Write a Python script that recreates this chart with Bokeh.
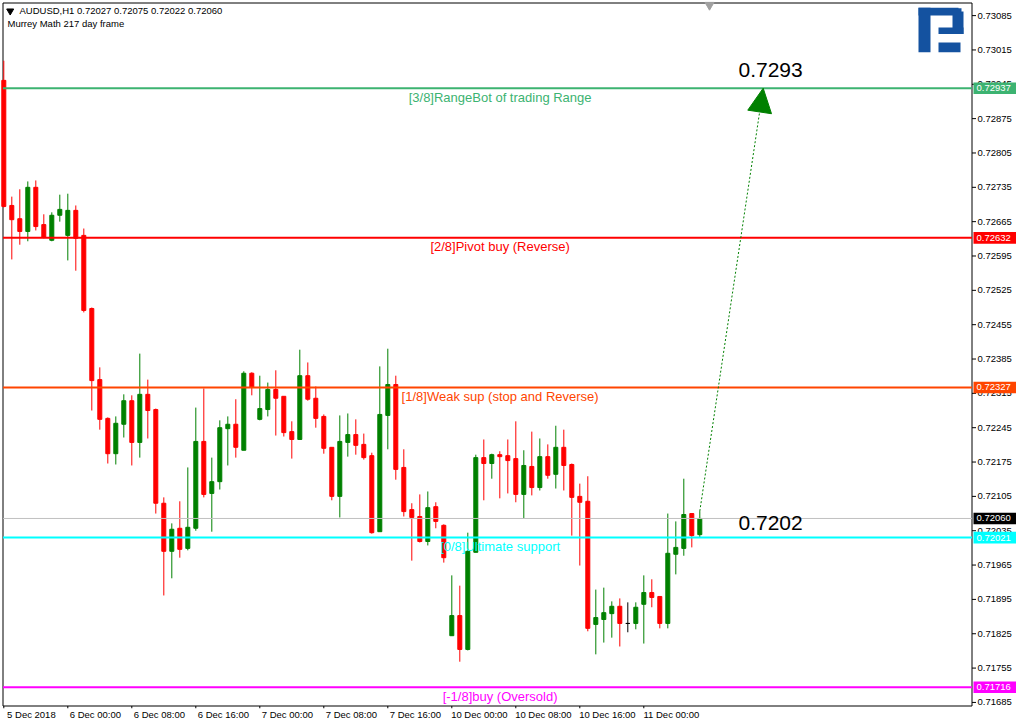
from bokeh.plotting import figure
from bokeh.models import (Range1d, LinearAxis, FixedTicker, Label, Arrow, NormalHead,
                          ColumnDataSource)
from bokeh.core.properties import value
from bokeh.embed import file_html
from bokeh.resources import INLINE

# ---------------- data ----------------
symbol = "AUDUSD,H1"
indicator_name = "Murrey Math 217 day frame"

opens = [0.72953, 0.72698, 0.72671, 0.72645, 0.72735, 0.72659, 0.72627, 0.72678, 0.72637, 0.72688,
         0.72637, 0.72488, 0.72343, 0.72264, 0.72192, 0.72252, 0.72300, 0.72215, 0.72313, 0.72282,
         0.72091, 0.71993, 0.72040, 0.71999, 0.72040, 0.72217, 0.72111, 0.72135, 0.72243, 0.72252,
         0.72199, 0.72356, 0.72262, 0.72282, 0.72323, 0.72309, 0.72237, 0.72221, 0.72351, 0.72305,
         0.72268, 0.72205, 0.72105, 0.72215, 0.72231, 0.72211, 0.72188, 0.72033, 0.72270, 0.72333,
         0.72164, 0.72078, 0.72064, 0.72013, 0.72084, 0.72046, 0.71821, 0.71862, 0.71793, 0.71991,
         0.72184, 0.72172, 0.72190, 0.72188, 0.72182, 0.72109, 0.72166, 0.72123, 0.72186, 0.72150,
         0.72205, 0.72170, 0.72105, 0.72095, 0.71844, 0.71854, 0.71866, 0.71881, 0.71846, 0.71846,
         0.71885, 0.71909, 0.71901, 0.71846, 0.71987, 0.71999, 0.72070, 0.72027]
highs = [0.72993, 0.72716, 0.72731, 0.72747, 0.72749, 0.72680, 0.72684, 0.72720, 0.72722, 0.72698,
         0.72651, 0.72490, 0.72368, 0.72266, 0.72268, 0.72313, 0.72311, 0.72396, 0.72343, 0.72284,
         0.72103, 0.72050, 0.72095, 0.72164, 0.72286, 0.72325, 0.72184, 0.72260, 0.72268, 0.72303,
         0.72360, 0.72358, 0.72351, 0.72337, 0.72362, 0.72309, 0.72258, 0.72404, 0.72378, 0.72329,
         0.72272, 0.72205, 0.72270, 0.72274, 0.72262, 0.72233, 0.72194, 0.72370, 0.72406, 0.72351,
         0.72201, 0.72091, 0.72109, 0.72115, 0.72093, 0.72048, 0.71944, 0.71923, 0.72031, 0.72190,
         0.72221, 0.72192, 0.72197, 0.72221, 0.72258, 0.72199, 0.72237, 0.72223, 0.72211, 0.72249,
         0.72241, 0.72172, 0.72131, 0.72146, 0.71915, 0.71919, 0.71891, 0.71897, 0.71889, 0.71889,
         0.71944, 0.71936, 0.71901, 0.72070, 0.72054, 0.72141, 0.72070, 0.72075]
lows = [0.72694, 0.72588, 0.72618, 0.72625, 0.72647, 0.72631, 0.72625, 0.72665, 0.72586, 0.72565,
        0.72480, 0.72280, 0.72241, 0.72172, 0.72170, 0.72225, 0.72168, 0.72184, 0.72223, 0.72070,
        0.71903, 0.71938, 0.71980, 0.71995, 0.72035, 0.72103, 0.72033, 0.72119, 0.72168, 0.72184,
        0.72199, 0.72311, 0.72260, 0.72268, 0.72229, 0.72227, 0.72182, 0.72221, 0.72300, 0.72245,
        0.72192, 0.72097, 0.72062, 0.72186, 0.72190, 0.72180, 0.72029, 0.72033, 0.72201, 0.72139,
        0.72064, 0.71974, 0.72011, 0.72005, 0.72040, 0.71970, 0.71821, 0.71768, 0.71791, 0.71991,
        0.72097, 0.72141, 0.72101, 0.72111, 0.72093, 0.72060, 0.72107, 0.72117, 0.72141, 0.72121,
        0.72117, 0.72025, 0.71964, 0.71830, 0.71783, 0.71807, 0.71817, 0.71799, 0.71828, 0.71834,
        0.71805, 0.71879, 0.71836, 0.71836, 0.71946, 0.71984, 0.72001, 0.72022]
closes = [0.72696, 0.72669, 0.72645, 0.72735, 0.72655, 0.72633, 0.72678, 0.72690, 0.72688, 0.72631,
          0.72484, 0.72341, 0.72262, 0.72192, 0.72254, 0.72300, 0.72215, 0.72313, 0.72280, 0.72091,
          0.71993, 0.72038, 0.71997, 0.72042, 0.72217, 0.72109, 0.72135, 0.72245, 0.72252, 0.72205,
          0.72356, 0.72327, 0.72284, 0.72323, 0.72305, 0.72235, 0.72221, 0.72351, 0.72303, 0.72264,
          0.72203, 0.72105, 0.72217, 0.72231, 0.72209, 0.72184, 0.72031, 0.72272, 0.72333, 0.72160,
          0.72074, 0.72062, 0.72013, 0.72082, 0.72054, 0.71980, 0.71862, 0.71793, 0.71993, 0.72184,
          0.72172, 0.72190, 0.72186, 0.72178, 0.72109, 0.72168, 0.72123, 0.72186, 0.72148, 0.72205,
          0.72168, 0.72103, 0.72093, 0.71836, 0.71858, 0.71868, 0.71881, 0.71846, 0.71846, 0.71879,
          0.71909, 0.71899, 0.71846, 0.71989, 0.72001, 0.72068, 0.72025, 0.72060]

x_tick_index = [0, 8, 16, 24, 32, 40, 48, 56, 64, 72, 80]
x_tick_labels = ["5 Dec 2018", "6 Dec 00:00", "6 Dec 08:00", "6 Dec 16:00", "7 Dec 00:00",
                 "7 Dec 08:00", "7 Dec 16:00", "10 Dec 00:00", "10 Dec 08:00", "10 Dec 16:00",
                 "11 Dec 00:00"]

y_ticks = [0.73085, 0.73015, 0.72945, 0.72875, 0.72805, 0.72735, 0.72665, 0.72595, 0.72525,
           0.72455, 0.72385, 0.72315, 0.72245, 0.72175, 0.72105, 0.72035, 0.71965, 0.71895,
           0.71825, 0.71755, 0.71685]

level_prices = [0.72937, 0.72632, 0.72327, 0.72021, 0.71716]
level_texts = ["[3/8]RangeBot of trading Range", "[2/8]Pivot buy (Reverse)",
               "[1/8]Weak sup (stop and Reverse)", "[0/8]Ultimate support",
               "[-1/8]buy (Oversold)"]

target_price = 0.72937
target_text = "0.7293"
support_text = "0.7202"

# ---------------- styles / layout ----------------
level_colors = ["#3CB371", "#FF0000", "#FF4500", "#00FFFF", "#FF00FF"]
BULL, BEAR, DOJI = "#008000", "#FF0000", "#000000"
FONT = "Liberation Sans"
W, H, FRAME_BOTTOM = 1016, 723, 708


def rx(px):
    """layout pixel x -> bar index"""
    return (px - 3.3) / 8.0


def ry(py):
    """layout pixel y -> price"""
    return 0.731158 - py * 0.000020384


PX = 0.000020384
x_lo, x_hi = rx(0.0), rx(W)
y_lo, y_hi = ry(FRAME_BOTTOM), ry(0.0)
AX = rx(971.5)              # price-axis line position
FR_TOP, FR_BOT = ry(2.5), ry(705.5)

p = figure(width=W, height=H, x_range=Range1d(x_lo, x_hi), y_range=Range1d(y_lo, y_hi),
           output_backend="svg", toolbar_location=None,
           x_axis_location=None, y_axis_location=None,
           min_border_left=0, min_border_top=0, min_border_right=0,
           min_border_bottom=H - FRAME_BOTTOM,
           background_fill_color="white", border_fill_color="white",
           outline_line_color=None)
p.grid.visible = False

# bottom time labels: real axis on a shifted range so the labels start at each tick
shift = 3.45
p.extra_x_ranges = {"lbl": Range1d(x_lo - shift, x_hi - shift)}
lax = LinearAxis(x_range_name="lbl", ticker=FixedTicker(ticks=x_tick_index),
                 major_label_overrides={t: s for t, s in zip(x_tick_index, x_tick_labels)})
lax.axis_line_color = None
lax.major_tick_out = 0
lax.major_tick_in = 0
lax.minor_tick_out = 0
lax.minor_tick_in = 0
lax.major_label_standoff = 0
lax.major_label_text_font = FONT
lax.major_label_text_font_size = "9.5px"
lax.major_label_text_color = "black"
p.add_layout(lax, "below")

# chart frame and time tick marks
p.segment(x0=[rx(2.5), rx(2.5), rx(2.5), AX], x1=[AX, AX, rx(2.5), AX],
          y0=[FR_TOP, FR_BOT, FR_TOP, FR_TOP], y1=[FR_TOP, FR_BOT, FR_BOT, FR_BOT],
          line_color="black", line_width=1)
p.segment(x0=x_tick_index, x1=x_tick_index, y0=[FR_BOT] * len(x_tick_index),
          y1=[ry(FRAME_BOTTOM)] * len(x_tick_index), line_color="black", line_width=1)

# price scale on the right
p.segment(x0=[AX] * len(y_ticks), x1=[rx(975.5)] * len(y_ticks), y0=y_ticks, y1=y_ticks,
          line_color="black", line_width=1)
p.text(x=[rx(977.0)] * len(y_ticks), y=y_ticks, text=[f"{t:.5f}" for t in y_ticks],
       text_align="left", text_baseline="middle", text_color="black",
       text_font=value(FONT), text_font_size="9.5px")

# candles
idx = list(range(len(opens)))
colors = [BULL if c > o else (BEAR if c < o else DOJI) for o, c in zip(opens, closes)]
src = ColumnDataSource(dict(x=idx, o=opens, h=highs, l=lows, c=closes,
                            top=[max(o, c) for o, c in zip(opens, closes)],
                            bot=[min(o, c) for o, c in zip(opens, closes)],
                            color=colors))
p.segment(x0="x", y0="h", x1="x", y1="l", line_color="color", line_width=1, source=src)
p.vbar(x="x", width=0.5, top="top", bottom="bot", fill_color="color", line_color="color",
       line_width=1, source=src)

# bid line and Murrey levels (stop at the price scale)
p.segment(x0=[rx(2.5)], x1=[AX], y0=[closes[-1]], y1=[closes[-1]], line_color="#C0C0C0",
          line_width=1)
p.segment(x0=[rx(2.5)] * len(level_prices), x1=[AX] * len(level_prices), y0=level_prices,
          y1=level_prices, line_color=level_colors, line_width=2)
p.text(x=[rx(499.6)] * len(level_prices), y=[v - 1.5 * PX for v in level_prices],
       text=level_texts, text_align="center", text_baseline="top", text_color=level_colors,
       text_font=value(FONT), text_font_size="13px")

# price tags on the scale
tag_prices = level_prices + [closes[-1]]
tag_colors = level_colors + ["#000000"]
p.quad(left=[rx(973.0)] * len(tag_prices), right=[rx(1015.5)] * len(tag_prices),
       top=[v + 5.8 * PX for v in tag_prices], bottom=[v - 5.8 * PX for v in tag_prices],
       fill_color=tag_colors, line_color=None)
p.text(x=[rx(976.0)] * len(tag_prices), y=tag_prices, text=[f"{v:.5f}" for v in tag_prices],
       text_align="left", text_baseline="middle", text_color="white",
       text_font=value(FONT), text_font_size="9.5px")

# forecast arrow
p.add_layout(Arrow(end=NormalHead(size=24, fill_color="#008000", line_color="#008000"),
                   x_start=idx[-1], y_start=highs[-1], x_end=rx(762.7), y_end=target_price,
                   line_color="#008000", line_width=1, line_dash="2 2"))
p.add_layout(Label(x=rx(738), y=ry(69.0), text=target_text, text_align="left",
                   text_baseline="alphabetic", text_color="black", text_font=FONT,
                   text_font_size="21px"))
p.add_layout(Label(x=rx(738), y=ry(522.0), text=support_text, text_align="left",
                   text_baseline="alphabetic", text_color="black", text_font=FONT,
                   text_font_size="21px"))

# header
p.scatter(x=[rx(9.7)], y=[ry(10.5)], marker="inverted_triangle", size=7,
          fill_color="black", line_color="black")
p.add_layout(Label(x=rx(19), y=ry(4.0),
                   text=f"{symbol}  {opens[-1]:.5f} {highs[-1]:.5f} {lows[-1]:.5f} {closes[-1]:.5f}",
                   text_align="left", text_baseline="top", text_color="black",
                   text_font=FONT, text_font_size="9.5px"))
p.add_layout(Label(x=rx(7), y=ry(17.5), text=indicator_name, text_align="left",
                   text_baseline="top", text_color="black", text_font=FONT,
                   text_font_size="9.5px"))

# chart-shift marker
p.scatter(x=[rx(709)], y=[ry(4.5)], marker="inverted_triangle", size=9,
          fill_color="#A0A0A0", line_color="#A0A0A0")

# logo (decoration)
logo_boxes = [(918, 930, 7.3, 51.7), (918, 958, 7.3, 15), (952, 963, 11, 33.5),
              (956, 961, 7.8, 12), (938, 963, 27, 33.5), (938, 960, 42, 51.7)]
p.quad(left=[rx(b[0]) for b in logo_boxes], right=[rx(b[1]) for b in logo_boxes],
       top=[ry(b[2]) for b in logo_boxes], bottom=[ry(b[3]) for b in logo_boxes],
       fill_color="#1452A0", line_color=None)

open("out.html", "w").write(file_html(p, INLINE))
